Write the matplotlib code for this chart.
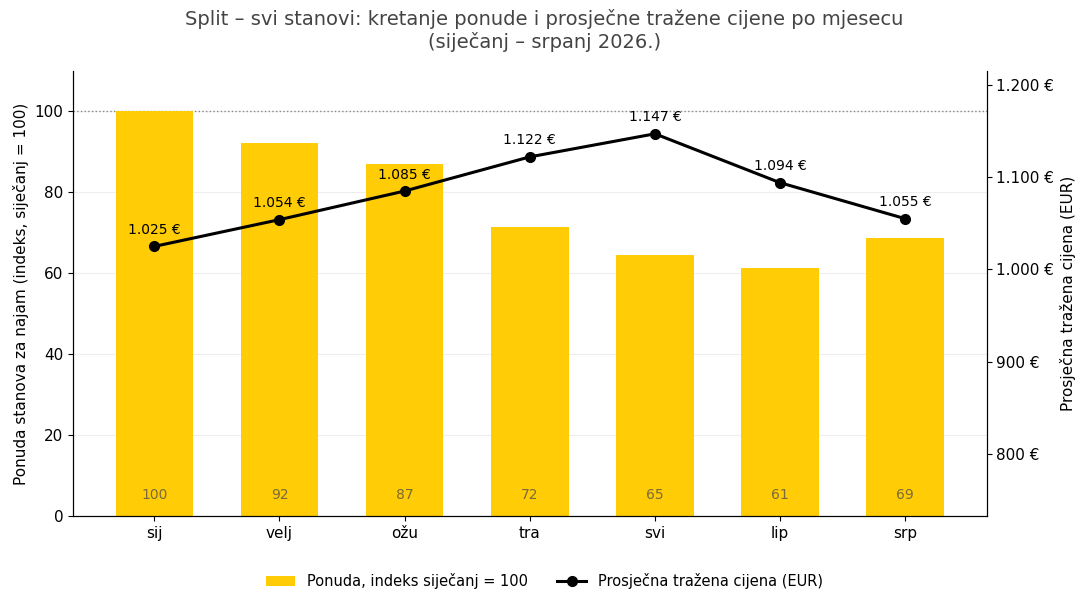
import matplotlib
matplotlib.use("Agg")
import matplotlib.pyplot as plt
import numpy as np

months = ["sij", "velj", "ožu", "tra", "svi", "lip", "srp"]
supply_index = [100, 92.3, 87.1, 71.5, 64.6, 61.4, 68.6]
avg_price = [1025, 1054, 1085, 1122, 1147, 1094, 1055]

fig, ax = plt.subplots(figsize=(10.89, 6.02), dpi=100)
fig.subplots_adjust(left=0.067, right=0.906, top=0.882, bottom=0.143)
x = np.arange(len(months))
bars = ax.bar(x, supply_index, width=0.62, color="#FFCC05", label="Ponuda, indeks siječanj = 100", zorder=2)
for xi, v in zip(x, supply_index):
    ax.text(xi, 3.5, f"{v:.0f}", ha="center", va="bottom", fontsize=10, color="#7a6a3a", zorder=3)
ax.axhline(100, color="#888888", linestyle=":", linewidth=1, zorder=1)
ax.set_ylim(0, 110)
ax.set_xlim(-0.65, 6.65)
ax.set_xticks(x)
ax.set_xticklabels(months, fontsize=11)
ax.set_ylabel("Ponuda stanova za najam (indeks, siječanj = 100)", fontsize=11)
ax.yaxis.grid(True, color="#eeeeee", linewidth=0.8, zorder=0)
ax.set_axisbelow(True)
ax.spines["top"].set_visible(False)
ax.tick_params(axis="y", labelsize=11)

ax2 = ax.twinx()
line, = ax2.plot(x, avg_price, color="black", linewidth=2.2, marker="o", markersize=7, label="Prosječna tražena cijena (EUR)", zorder=4)
for xi, v in zip(x, avg_price):
    ax2.annotate(f"{v/1000:.3f} €".replace(".", "."), (xi, v), textcoords="offset points", xytext=(0, 9), ha="center", fontsize=10)
ax2.set_ylim(733, 1215)
ax2.set_yticks([800, 900, 1000, 1100, 1200])
ax2.set_yticklabels(["800 €", "900 €", "1.000 €", "1.100 €", "1.200 €"], fontsize=11)
ax2.set_ylabel("Prosječna tražena cijena (EUR)", fontsize=11)
ax2.spines["top"].set_visible(False)

fig.suptitle("Split – svi stanovi: kretanje ponude i prosječne tražene cijene po mjesecu\n(siječanj – srpanj 2026.)",
             fontsize=14, color="#444444", y=0.985)
fig.legend([bars, line], [bars.get_label(), line.get_label()], loc="lower center", ncol=2,
           frameon=False, fontsize=10.5, bbox_to_anchor=(0.5, 0.0))
fig.savefig("out.png", dpi=100)
